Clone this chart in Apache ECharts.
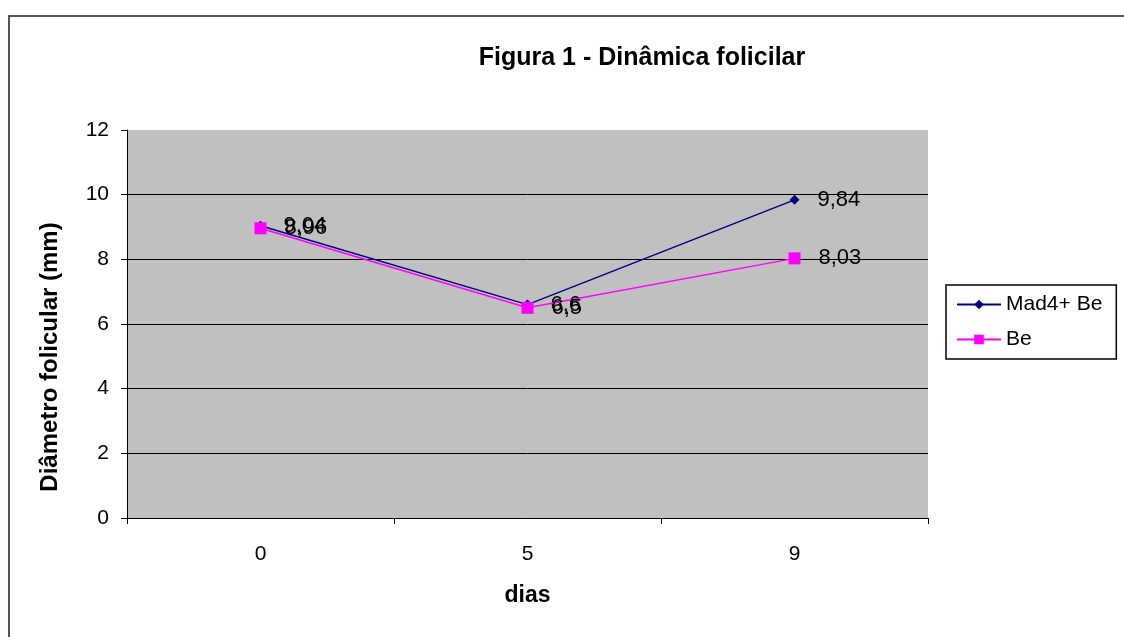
<!DOCTYPE html>
<html><head><meta charset="utf-8">
<script src="https://cdn.jsdelivr.net/npm/echarts@6/dist/echarts.min.js"></script>
<style>html,body{margin:0;padding:0;background:#fff}#c{width:1124px;height:637px}</style>
</head><body><div id="c"></div>
<script>
const categories = ['0', '5', '9'];
const mad4Be = [9.04, 6.6, 9.84];
const be = [8.96, 6.5, 8.03];
const mad4Labels = ['9,04', '6,6', '9,84'];
const beLabels = ['8,96', '6,5', '8,03'];
const yTicks = [0, 2, 4, 6, 8, 10, 12];

const F = 'Liberation Sans, Arial, sans-serif';
const chart = echarts.init(document.getElementById('c'));
const lbl = arr => ({
  show: true, position: 'right', distance: 18,
  fontFamily: F, fontSize: 22, color: '#000',
  formatter: p => arr[p.dataIndex]
});
chart.setOption({
  animation: false,
  graphic: [
    {type: 'rect', shape: {x: 9, y: 16, width: 1140, height: 640},
      style: {fill: 'none', stroke: '#555', lineWidth: 2}, z: -10},
    {type: 'text', x: 50, y: 357, rotation: Math.PI / 2,
      style: {text: 'Diâmetro folicular (mm)', fontFamily: F, fontSize: 24, fontWeight: 'bold',
        fill: '#000', align: 'center', verticalAlign: 'middle'}}
  ],
  title: {text: 'Figura 1 - Dinâmica folicilar', left: 637, top: 41, textAlign: 'center',
    textStyle: {fontFamily: F, fontSize: 25, fontWeight: 'bold', color: '#000'}},
  grid: {left: 127, top: 130, width: 801, height: 388, backgroundColor: '#C0C0C0', show: true, borderWidth: 0},
  legend: {orient: 'vertical', left: 946, top: 285, width: 170, itemWidth: 44, itemHeight: 12,
    padding: [9, 14, 9, 10], itemGap: 14, borderColor: '#000', borderWidth: 1.5,
    textStyle: {fontFamily: F, fontSize: 21, color: '#000'}, data: ['Mad4+ Be', 'Be']},
  xAxis: {type: 'category', data: categories, boundaryGap: true,
    name: 'dias', nameLocation: 'middle', nameGap: 66,
    nameTextStyle: {fontFamily: F, fontSize: 23, fontWeight: 'bold', color: '#000'},
    axisLine: {lineStyle: {color: '#000', width: 1}},
    axisTick: {show: true, length: 6, lineStyle: {color: '#000'}},
    axisLabel: {fontFamily: F, fontSize: 21, color: '#000', margin: 26}},
  yAxis: {type: 'value', min: 0, max: 12, interval: 2,
    axisLine: {show: true, lineStyle: {color: '#000', width: 1}},
    axisTick: {show: true, length: 6, lineStyle: {color: '#000'}},
    splitLine: {show: true, lineStyle: {color: ['#000', '#000', '#000', '#000', '#000', '#000', '#C0C0C0'], width: 1}},
    axisLabel: {fontFamily: F, fontSize: 21, color: '#000', margin: 18,
      formatter: v => yTicks.includes(v) ? String(v) : ''}},
  series: [
    {name: 'Mad4+ Be', type: 'line', data: mad4Be, symbol: 'diamond', symbolSize: 10,
      lineStyle: {color: '#000080', width: 1.5}, itemStyle: {color: '#000080'},
      label: lbl(mad4Labels), z: 2},
    {name: 'Be', type: 'line', data: be, symbol: 'rect', symbolSize: 12,
      lineStyle: {color: '#FF00FF', width: 1.5}, itemStyle: {color: '#FF00FF'},
      label: lbl(beLabels), z: 3}
  ]
});
</script></body></html>
